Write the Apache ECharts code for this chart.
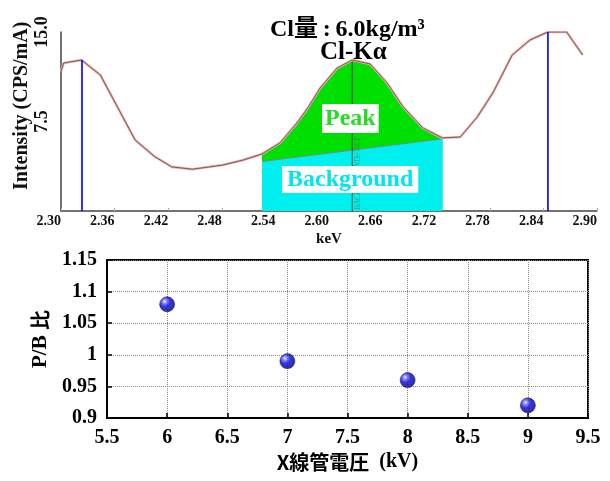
<!DOCTYPE html>
<html><head><meta charset="utf-8">
<script src="https://cdn.jsdelivr.net/npm/echarts@6/dist/echarts.min.js"></script>
<style>html,body{margin:0;padding:0;background:#fff}#c{width:610px;height:481px}</style>
</head><body><div id="c"></div>
<script>
const SERIF = '"Liberation Serif","Times New Roman",serif';
const CJK = '"Noto Sans CJK JP",sans-serif';

// ---- spectrum (top) ----
const keV = [2.300, 2.303, 2.323, 2.344, 2.364, 2.383, 2.405, 2.424, 2.447, 2.481, 2.504, 2.525,
  2.545, 2.564, 2.577, 2.590, 2.609, 2.626, 2.646, 2.665, 2.683, 2.705, 2.727, 2.747,
  2.766, 2.784, 2.805, 2.825, 2.845, 2.866, 2.884];
const intensity = [11.7, 12.4, 12.65, 11.4, 8.6, 5.95, 4.55, 3.7, 3.5, 3.85, 4.27, 4.78,
  5.7, 7.37, 8.72, 10.3, 11.98, 12.65, 12.32, 10.73, 8.72, 6.96, 6.12, 6.2,
  7.88, 9.97, 13.07, 14.33, 15.0, 15.0, 13.07];
const bgKeV = [2.525, 2.727];
const bgInt = [4.15, 6.05];
const peakRange = [2.525, 2.727];
const markerKeV = [2.3235, 2.8451];
const markerTop = [12.65, 15.0];
const peakKeV = 2.626, peakTop = 12.65;
const topXMin = 2.30, topXMax = 2.90, topXStep = 0.06;
const topYMax = 15, topYStep = 7.5;

// ---- P/B ratio (bottom) ----
const voltage = [6, 7, 8, 9];
const pbRatio = [1.08, 0.99, 0.96, 0.92];

const off = v => +(v - topXMin).toFixed(5);
const curve = keV.map((k, i) => [off(k), intensity[i]]);
const peakPart = curve.filter((p, i) => keV[i] >= peakRange[0] - 1e-9 && keV[i] <= peakRange[1] + 1e-9);
const bgPart = bgKeV.map((k, i) => [off(k), bgInt[i]]);

const sphere = {
  type: 'radial', x: 0.35, y: 0.32, r: 0.75,
  colorStops: [
    {offset: 0, color: '#ffffff'}, {offset: 0.15, color: '#7a7aff'},
    {offset: 0.45, color: '#0000e0'}, {offset: 0.85, color: '#00008a'}, {offset: 1, color: '#000030'}
  ]
};

const chart = echarts.init(document.getElementById('c'));
chart.setOption({
  animation: false,
  backgroundColor: '#fff',
  grid: [
    {left: 61, right: 13, top: 32, height: 179},
    {left: 107, right: 22, top: 260, height: 158, show: true, borderColor: '#000', borderWidth: 2}
  ],
  xAxis: [
    {gridIndex: 0, type: 'value', min: 0, max: off(topXMax), interval: topXStep,
     name: 'keV', nameLocation: 'middle', nameGap: 21,
     nameTextStyle: {fontFamily: SERIF, fontWeight: 'bold', fontSize: 15, color: '#111'},
     axisLine: {lineStyle: {color: '#444', width: 1.5}},
     axisTick: {show: true, inside: true, length: 3, lineStyle: {color: '#aaa'}},
     splitLine: {show: false},
     axisLabel: {formatter: v => (topXMin + v).toFixed(2), align: 'right', margin: 3,
       fontFamily: SERIF, fontWeight: 'bold', fontSize: 14, color: '#111'}},
    {gridIndex: 1, type: 'value', min: 5.5, max: 9.5, interval: 0.5,
     name: '{a|X線管電圧}{b|\u00a0\u00a0(kV)}', nameLocation: 'middle', nameGap: 34,
     nameTextStyle: {rich: {
       a: {fontFamily: CJK, fontWeight: 'bold', fontSize: 20, color: '#000'},
       b: {fontFamily: SERIF, fontWeight: 'bold', fontSize: 20, color: '#000'}}},
     axisLine: {lineStyle: {color: '#000', width: 2}},
     axisTick: {inside: true, length: 5, lineStyle: {color: '#000', width: 1.5}},
     splitLine: {show: true, lineStyle: {color: '#888', type: 'dotted', width: 1}},
     axisLabel: {margin: 10, fontFamily: SERIF, fontWeight: 'bold', fontSize: 20, color: '#000'}}
  ],
  yAxis: [
    {gridIndex: 0, type: 'value', min: 0, max: topYMax, interval: topYStep,
     axisLine: {show: true, lineStyle: {color: '#444', width: 1.5}},
     axisTick: {show: false}, splitLine: {show: false},
     axisLabel: {rotate: 90, margin: 10, formatter: v => v === 0 ? '' : v.toFixed(1),
       fontFamily: SERIF, fontWeight: 'bold', fontSize: 18, color: '#111'}},
    {gridIndex: 1, type: 'value', min: 0.9, max: 1.15, interval: 0.05,
     name: '{b|P/B }{a|比}', nameLocation: 'middle', nameGap: 54,
     nameTextStyle: {rich: {
       a: {fontFamily: CJK, fontWeight: 'bold', fontSize: 20, color: '#000'},
       b: {fontFamily: SERIF, fontWeight: 'bold', fontSize: 21, color: '#000'}}},
     axisLine: {show: true, lineStyle: {color: '#000', width: 2}},
     axisTick: {show: true, inside: true, length: 5, lineStyle: {color: '#000', width: 1.5}},
     splitLine: {show: true, lineStyle: {color: '#888', type: 'dotted', width: 1}},
     axisLabel: {margin: 10, fontFamily: SERIF, fontWeight: 'bold', fontSize: 20, color: '#000'}}
  ],
  series: [
    {type: 'line', xAxisIndex: 0, yAxisIndex: 0, data: peakPart, showSymbol: false,
     lineStyle: {width: 0}, areaStyle: {color: '#00e000', opacity: 1}, z: 1},
    {type: 'line', xAxisIndex: 0, yAxisIndex: 0, data: bgPart, showSymbol: false,
     lineStyle: {width: 1, color: '#6f8a8a'}, areaStyle: {color: '#00f0f0', opacity: 1}, z: 2},
    {type: 'line', xAxisIndex: 0, yAxisIndex: 0, showSymbol: false,
     data: [[off(peakKeV), 0], [off(peakKeV), peakTop]],
     lineStyle: {width: 1, color: '#1d4a35'}, z: 3},
    {type: 'line', xAxisIndex: 0, yAxisIndex: 0, data: curve, showSymbol: false,
     lineStyle: {width: 2.6, color: '#e8b4b4'}, z: 4},
    {type: 'line', xAxisIndex: 0, yAxisIndex: 0, data: curve, showSymbol: false,
     lineStyle: {width: 0.9, color: '#7a4a4a'}, z: 5},
    ...markerKeV.map((k, i) => ({type: 'line', xAxisIndex: 0, yAxisIndex: 0, showSymbol: false,
      data: [[off(k), 0], [off(k), markerTop[i]]], lineStyle: {width: 1.6, color: '#0000ee'}, z: 6})),
    {type: 'scatter', xAxisIndex: 1, yAxisIndex: 1, data: voltage.map((v, i) => [v, pbRatio[i]]),
     symbolSize: 15, itemStyle: {color: sphere, borderColor: '#000040', borderWidth: 0.6}, z: 10}
  ],
  graphic: [
    {type: 'text', left: 270, top: 18, style: {text: 'Cl量\u2009:\u20096.0kg/m³',
      font: 'bold 24px ' + SERIF + ',' + CJK, fill: '#000'}, z: 20},
    {type: 'text', left: 320, top: 40, style: {text: 'Cl-Kα', font: 'bold 25px ' + SERIF, fill: '#000'}, z: 20},
    {type: 'text', left: 322, top: 104, style: {text: 'Peak', font: 'bold 24px ' + SERIF, fill: '#22dd22',
      backgroundColor: '#fff', padding: [3, 3, 2, 3]}, z: 20},
    {type: 'text', left: 282, top: 166, style: {text: 'Background', font: 'bold 24px ' + SERIF, fill: '#00e6ee',
      backgroundColor: '#fff', padding: [2, 5, 1, 5]}, z: 20},
    {type: 'text', x: 354, y: 210, rotation: Math.PI / 2, style: {text: 'BACKGROUND//NET',
      font: 'italic 8px ' + SERIF, fill: '#2a6a4a', opacity: 0.55}, z: 8},
    {type: 'text', x: 12, y: 190, rotation: Math.PI / 2, style: {text: 'Intensity (CPS/mA)',
      font: 'bold 20px ' + SERIF, fill: '#111'}, z: 20}
  ]
});
</script></body></html>
